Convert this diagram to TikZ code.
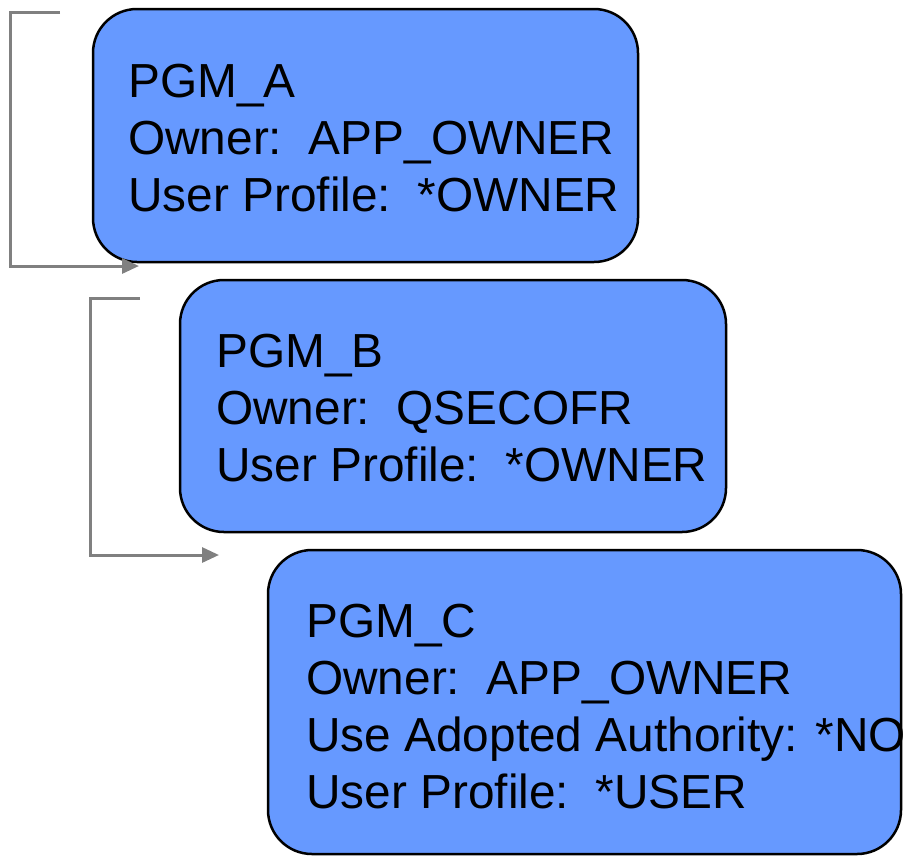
\documentclass[tikz,border=0pt]{standalone}
\usepackage{fontspec}
\setmainfont{Liberation Sans}
\usetikzlibrary{arrows.meta}
\definecolor{boxblue}{HTML}{6699FF}
\definecolor{linkgray}{HTML}{808080}
\tikzset{
  pgmbox/.style={draw=black, line width=2.5pt, fill=boxblue, rounded corners=44pt},
  txt/.style={anchor=base west, inner sep=0pt, font=\fontsize{47.8}{57}\selectfont},
  link/.style={draw=linkgray, line width=3pt, -{Triangle[length=17pt,width=15pt]}}
}
\begin{document}
\begin{tikzpicture}[x=1pt,y=-1pt]
\useasboundingbox (0,0) rectangle (904,855);
\begin{scope}
\clip (0,0) rectangle (904,855);
\draw[pgmbox] (93,9) rectangle (638,262);
\node (boxA) at (365,135) {};
\draw[pgmbox] (180,280) rectangle (726,532);
\node (boxB) at (453,406) {};
\draw[pgmbox] (268,550) rectangle (901,854);
\node (boxC) at (584,702) {};
\end{scope}
\node[txt] (a1) at (128,97) {PGM\_A};
\node[txt] (a2) at (128,154) {Owner:\ \ APP\_OWNER};
\node[txt] (a3) at (128,211) {User Profile:\ \ *OWNER};
\node[txt] (b1) at (216,367) {PGM\_B};
\node[txt] (b2) at (216,424) {Owner:\ \ QSECOFR};
\node[txt] (b3) at (216,481) {User Profile:\ \ *OWNER};
\node[txt] (c1) at (306,637) {PGM\_C};
\node[txt] (c2) at (306,694) {Owner:\ \ APP\_OWNER};
\node[txt] (c3) at (306,751) {Use Adopted Authority: *NO};
\node[txt] (c4) at (306,808) {User Profile:\ \ *USER};
\coordinate (s1) at (60,12);
\coordinate (e1) at (139,266);
\coordinate (s2) at (140,298);
\coordinate (e2) at (219,555);
\draw[link] (s1) -- (10,12) |- (e1);
\draw[link] (s2) -- (90,298) |- (e2);
\end{tikzpicture}
\end{document}
